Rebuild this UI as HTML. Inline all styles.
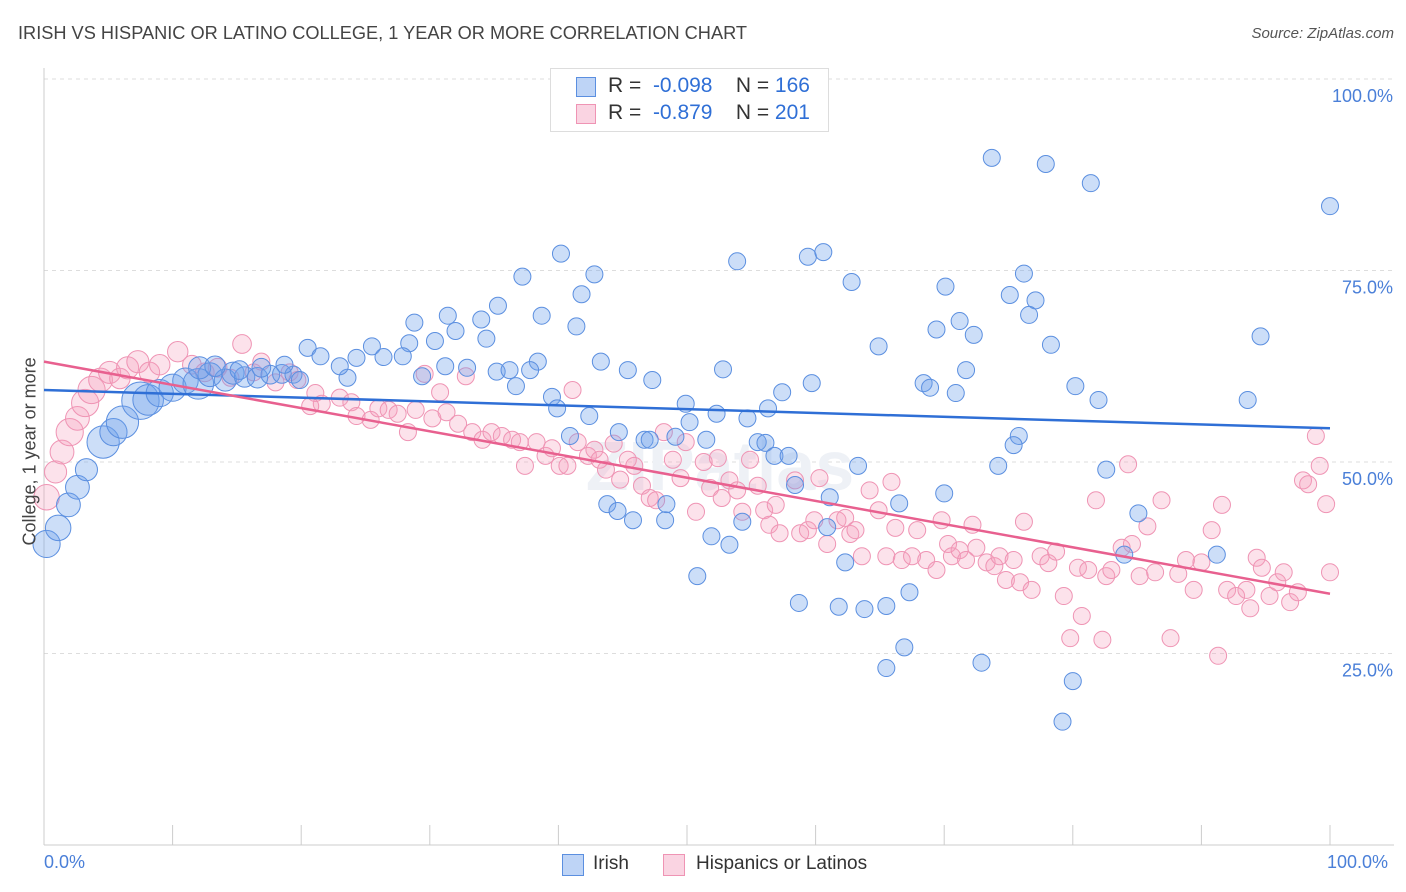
<!DOCTYPE html>
<html><head><meta charset="utf-8">
<style>
body{margin:0;background:#fff;font-family:"Liberation Sans",sans-serif;}
#wrap{position:relative;width:1406px;height:892px;overflow:hidden;}
.t{position:absolute;white-space:nowrap;}
</style></head>
<body>
<div id="wrap">
<div class="t" style="left:18px;top:23px;font-size:18.2px;color:#444;">IRISH VS HISPANIC OR LATINO COLLEGE, 1 YEAR OR MORE CORRELATION CHART</div>
<div class="t" style="right:12px;top:25px;font-size:15px;color:#555;font-style:italic;">Source: ZipAtlas.com</div>
<svg id="svg" width="1406" height="892" style="position:absolute;left:0;top:0"></svg>
</div>
<script>
const xTicks=[0,10,20,30,40,50,60,70,80,90,100];
const yTicks=[25,50,75,100];
const yTickLabels=["25.0%","50.0%","75.0%","100.0%"];
const blueTrend=[59.4,54.4];
const pinkTrend=[63.1,32.8];
const irish=[[100,83.4],[73.7,89.7],[77.9,88.9],[81.4,86.4],[40.2,77.2],[37.2,74.2],[42.8,74.5],[53.9,76.2],[59.4,76.8],[60.6,77.4],[62.8,73.5],[76.2,74.6],[70.1,72.9],[75.1,71.8],[77.1,71.1],[76.6,69.2],[41.8,71.9],[35.3,70.4],[38.7,69.1],[41.4,67.7],[31.4,69.1],[28.8,68.2],[34.0,68.6],[32.0,67.1],[34.4,66.1],[69.4,67.3],[71.2,68.4],[72.3,66.6],[78.3,65.3],[64.9,65.1],[94.6,66.4],[30.4,65.8],[28.4,65.5],[25.5,65.1],[20.5,64.9],[21.5,63.8],[24.3,63.6],[26.4,63.7],[27.9,63.8],[38.4,63.1],[43.3,63.1],[45.4,62.0],[52.8,62.1],[71.7,62.0],[47.3,60.7],[32.9,62.3],[35.2,61.8],[36.2,62.0],[37.8,62.0],[68.4,60.3],[68.9,59.7],[70.9,59.0],[59.7,60.3],[57.4,59.1],[80.2,59.9],[82.0,58.1],[93.6,58.1],[39.5,58.5],[36.7,59.9],[39.9,57.0],[42.4,56.0],[49.9,57.6],[52.3,56.3],[56.3,57.0],[54.7,55.7],[50.2,55.2],[49.1,53.3],[40.9,53.4],[44.7,53.9],[46.7,52.9],[47.1,52.9],[51.5,52.9],[55.5,52.6],[56.1,52.5],[56.8,50.8],[57.9,50.8],[75.8,53.4],[75.4,52.2],[63.3,49.5],[74.2,49.5],[82.6,49.0],[58.4,47.0],[61.1,45.4],[70.0,45.9],[66.5,44.6],[43.8,44.5],[44.6,43.6],[45.8,42.4],[48.3,42.4],[48.4,44.5],[54.3,42.2],[60.9,41.5],[85.1,43.3],[51.9,40.3],[53.3,39.2],[62.3,36.9],[50.8,35.1],[67.3,33.0],[58.7,31.6],[61.8,31.1],[63.8,30.8],[65.5,31.2],[66.9,25.8],[65.5,23.1],[72.9,23.8],[80.0,21.4],[79.2,16.1],[84.0,37.9],[91.2,37.9],
[0.2,39.3,1.6],[1.1,41.4,1.5],[1.9,44.4,1.4],[2.6,46.7,1.4],[3.3,49.0,1.3],[4.6,52.6,1.9],[5.4,53.9,1.6],[6.1,55.2,1.9],[7.5,58.0,2.2],[8.1,58.1,1.8],[9.0,59.0,1.6],[10.0,59.7,1.6],[11.0,60.6,1.5],[12.0,60.2,1.8],[12.9,61.4,1.4],[14.1,60.7,1.3],[14.7,61.6,1.3],[15.6,61.1,1.2],[16.6,61.0,1.2],[17.6,61.4,1.1],[18.5,61.5,1.1],[19.4,61.4,1],[19.9,60.7,1],[12.1,62.3,1.3],[13.3,62.5,1.2],[15.2,62.0,1.1],[16.9,62.3,1.1],[18.7,62.7,1],[23.6,61.0],[23.0,62.5],[29.4,61.2],[31.2,62.5]];
const hispanic=[[0.2,45.4,1.5],[0.9,48.7,1.3],[1.4,51.3,1.4],[2.0,53.9,1.6],[2.6,55.7,1.4],[3.2,57.7,1.6],[3.7,59.4,1.6],[4.4,60.7,1.4],[5.1,61.7,1.3],[5.9,60.9,1.2],[6.5,62.3,1.3],[7.3,63.1,1.3],[8.2,61.7,1.2],[9.0,62.7,1.2],[10.4,64.4,1.2],[11.5,62.7,1.1],[12.5,61.7,1.1],[13.5,62.3,1.1],[15.4,65.4,1.1],[14.5,61.0],[16.3,61.7],[16.9,63.1],[18.0,60.4],[19.1,61.7],[19.7,60.7],[21.1,59.0],[21.6,57.6],[20.7,57.3],[23.0,58.4],[23.9,57.8],[24.3,56.0],[25.4,55.5],[26.0,57.0],[26.8,56.8],[27.5,56.3],[28.3,53.9],[28.9,56.8],[29.6,61.5],[30.2,55.7],[30.8,59.1],[31.3,56.5],[32.2,55.0],[32.8,61.2],[33.3,53.9],[34.1,52.9],[34.8,53.9],[35.6,53.4],[36.4,52.9],[37.0,52.6],[37.4,49.5],[38.3,52.6],[39.0,50.8],[39.5,51.8],[40.1,49.5],[40.7,49.5],[41.1,59.4],[41.5,52.6],[42.3,50.8],[42.8,51.6],[43.2,50.3],[43.7,49.0],[44.3,52.4],[44.8,47.7],[45.4,50.3],[45.9,49.5],[46.5,46.9],[47.1,45.3],[47.6,45.0],[48.2,53.9],[48.9,50.3],[49.5,47.9],[49.9,52.6],[50.7,43.5],[51.3,50.0],[51.8,46.6],[52.4,50.5],[52.7,45.3],[53.3,47.6],[53.9,46.3],[54.3,43.5],[54.9,50.3],[55.5,46.9],[56.0,43.7],[56.4,41.8],[56.9,44.4],[57.2,40.7],[58.4,47.6],[58.8,40.7],[59.4,41.1],[59.9,42.4],[60.3,47.9],[60.9,39.3],[61.7,42.4],[62.3,42.7],[62.7,40.6],[63.1,41.1],[63.6,37.7],[64.2,46.3],[64.9,43.7],[65.5,37.7],[65.9,47.4],[66.2,41.4],[66.7,37.2],[67.5,37.7],[67.9,41.1],[68.6,37.2],[69.4,35.9],[69.8,42.4],[70.3,39.3],[70.6,37.7],[71.2,38.5],[71.7,37.2],[72.2,41.8],[72.5,38.8],[73.3,36.9],[73.9,36.4],[74.3,37.7],[74.8,34.6],[75.4,37.2],[75.9,34.3],[76.2,42.2],[76.8,33.3],[77.5,37.7],[78.1,36.8],[78.7,38.3],[79.3,32.5],[79.8,27.0],[80.4,36.2],[80.7,29.9],[81.2,35.9],[81.8,45.0],[82.3,26.8],[82.6,35.1],[83.0,35.9],[83.8,38.8],[84.3,49.7],[84.6,39.3],[85.2,35.1],[85.8,41.6],[86.4,35.6],[86.9,45.0],[87.6,27.0],[88.2,35.4],[88.8,37.2],[89.4,33.3],[90.0,36.9],[90.8,41.1],[91.3,24.7],[91.6,44.4],[92.0,33.3],[92.7,32.5],[93.5,33.3],[93.8,30.9],[94.3,37.5],[94.7,36.2],[95.3,32.5],[95.9,34.3],[96.4,35.6],[96.9,31.7],[97.5,33.0],[97.9,47.6],[98.3,47.1],[98.9,53.4],[99.2,49.5],[99.7,44.5],[100,35.6]];

const NS="http://www.w3.org/2000/svg";
const svg=document.getElementById('svg');
const X=v=>44+12.86*v, Y=v=>845-7.66*v;
function mk(tag,attrs,parent){const e=document.createElementNS(NS,tag);for(const k in attrs)e.setAttribute(k,attrs[k]);(parent||svg).appendChild(e);return e;}
yTicks.forEach((t,i)=>{
  const g=mk('line',{x1:44,x2:1394,y1:Y(t),y2:Y(t),stroke:'#ddd','stroke-dasharray':'4,4'});
  
  
  const tx=mk('text',{x:1393,y:Y(t)+23,'text-anchor':'end','font-size':18,fill:'#4a7fd8','font-family':'Liberation Sans'});
  tx.textContent=yTickLabels[i];
  
  
});
let a=mk('line',{x1:44,x2:44,y1:68,y2:845,stroke:'#ccc'});


a=mk('line',{x1:44,x2:1394,y1:845,y2:845,stroke:'#ccc'});


xTicks.forEach(t=>{
  const l=mk('line',{x1:X(t),x2:X(t),y1:825,y2:845,stroke:'#ccc'});
  
  
});
const wm=mk('text',{x:720,y:490,'text-anchor':'middle','font-size':70,'font-weight':'bold',fill:'#eef1f6','font-family':'Liberation Sans'});
wm.textContent='ZIPatlas';


function pts(data,fill,stroke,name){
  data.forEach(d=>{
    const s=d[2]||1;
    const c=mk('circle',{cx:X(d[0]),cy:Y(d[1]),r:8.5*s,fill:fill,stroke:stroke,'stroke-width':1});
    
    
  });
}
pts(hispanic,'rgba(244,160,190,0.3)','#ef94b4','hispanic-point');
pts(irish,'rgba(110,160,235,0.35)','#5b8fe0','irish-point');
let tl=mk('line',{x1:X(0),y1:Y(blueTrend[0]),x2:X(100),y2:Y(blueTrend[1]),stroke:'#2f6fd6','stroke-width':2.5});


tl=mk('line',{x1:X(0),y1:Y(pinkTrend[0]),x2:X(100),y2:Y(pinkTrend[1]),stroke:'#e8608f','stroke-width':2.5});


</script>
<div class="t" style="left:-60px;top:445px;width:180px;text-align:center;transform:rotate(-90deg);font-size:18px;color:#444;">College, 1 year or more</div>
<div class="t" style="left:44px;top:852px;font-size:18px;color:#4a7fd8;">0.0%</div>
<div class="t" style="left:1327px;top:852px;font-size:18px;color:#4a7fd8;">100.0%</div>
<div style="position:absolute;left:550px;top:68px;width:277px;height:62px;border:1px solid #ddd;background:#fff;font-size:21px;">
 <div style="position:absolute;left:25px;top:8px;width:18px;height:18px;background:rgba(110,160,235,0.45);border:1px solid #5b8fe0;"></div>
 <div class="t" style="left:57px;top:5px;color:#333;">R = &nbsp;<span style="color:#2f6fd6">-0.098</span>&nbsp;&nbsp;&nbsp;&nbsp;N = <span style="color:#2f6fd6">166</span></div>
 <div style="position:absolute;left:25px;top:35px;width:18px;height:18px;background:rgba(244,160,190,0.45);border:1px solid #ef94b4;"></div>
 <div class="t" style="left:57px;top:32px;color:#333;">R = &nbsp;<span style="color:#2f6fd6">-0.879</span>&nbsp;&nbsp;&nbsp;&nbsp;N = <span style="color:#2f6fd6">201</span></div>
</div>
<div style="position:absolute;left:562px;top:854px;width:20px;height:20px;background:rgba(110,160,235,0.45);border:1px solid #5b8fe0;"></div>
<div class="t" style="left:593px;top:853px;font-size:19px;color:#333;">Irish</div>
<div style="position:absolute;left:663px;top:854px;width:20px;height:20px;background:rgba(244,160,190,0.45);border:1px solid #ef94b4;"></div>
<div class="t" style="left:696px;top:853px;font-size:19px;color:#333;">Hispanics or Latinos</div>
</body></html>
